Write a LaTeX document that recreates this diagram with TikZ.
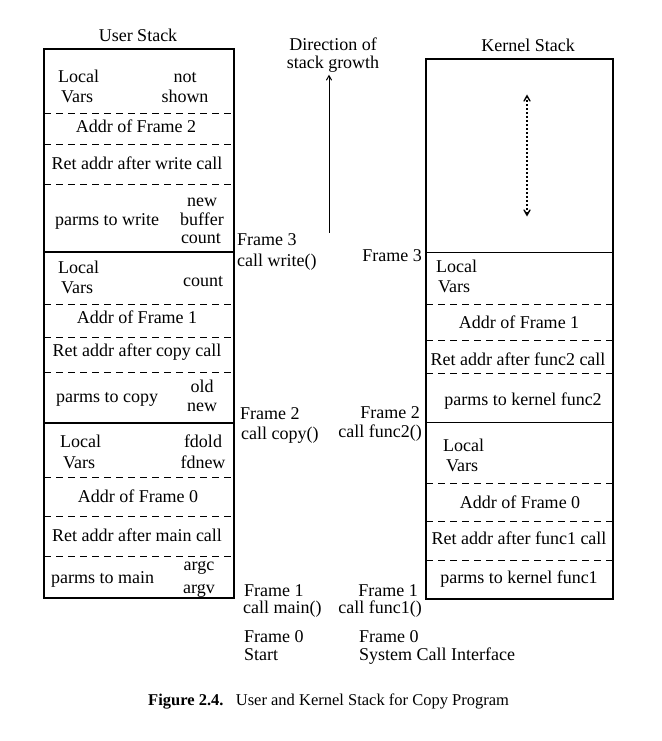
\documentclass[tikz,border=0pt]{standalone}
\usepackage{fontspec}
\setmainfont{Liberation Serif}
\usetikzlibrary{arrows,calc}

\begin{document}
\begin{tikzpicture}[%
  x=1pt,y=-1pt,
  every node/.style={font=\fontsize{18}{20}\selectfont,inner sep=0pt,
    text height=1.5ex,text depth=.25ex,yshift=-2.5pt},
  stack/.style={draw,line width=1.4pt},
  border/.style={line width=1.4pt},
  slot/.style={line width=1pt,dash pattern=on 7pt off 5pt},
  lft/.style={anchor=west},
  rgt/.style={anchor=east},
  caption/.style={anchor=west,font=\fontsize{16.5}{20}\selectfont},
  >=angle 60]
    \useasboundingbox (0,0) rectangle (661,741);
    % Stacks
    \node (utitle) at (138,36) {User Stack};
    \node (ktitle) at (528,46) {Kernel Stack};
    \draw[stack] (44,49) rectangle (234,598);
    \draw[stack] (426,59) rectangle (613,599);
    % Frame boundaries and slots
    \foreach \y in {252,423} \draw[border] (44,\y) -- (234,\y);
    \foreach \y in {114,144,184,304,337,372,477,516,556}
      \draw[slot] (44,\y) -- (234,\y);
    \foreach \y in {252.5,422.5} \draw[border] (426,\y) -- (613,\y);
    \foreach \y in {304,340,373,483,521,560}
      \draw[slot] (426,\y) -- (613,\y);
    % User stack, frame 3
    \node[lft] (ulocal3) at (58,77) {Local};
    \node[lft] (uvars3) at (61,97) {Vars};
    \node (unot) at (185,77) {not};
    \node (ushown) at (185,97) {shown};
    \node (uaddr2) at (136,127) {Addr of Frame 2};
    \node (uret3) at (137,164) {Ret addr after write call};
    \node[lft] (uparm3) at (55,220) {parms to write};
    \node (unew3) at (202,201) {new};
    \node (ubuf3) at (202,220) {buffer};
    \node (ucount3) at (201,238) {count};
    % User stack, frame 2
    \node[lft] (ulocal2) at (58,268) {Local};
    \node[lft] (uvars2) at (61,288) {Vars};
    \node (ucount2) at (203,281) {count};
    \node (uaddr1) at (137,318) {Addr of Frame 1};
    \node (uret2) at (137,351) {Ret addr after copy call};
    \node[lft] (uparm2) at (56,397) {parms to copy};
    \node (uold2) at (202,387) {old};
    \node (unew2) at (202,406) {new};
    % User stack, frame 1
    \node[lft] (ulocal1) at (60,442) {Local};
    \node[lft] (uvars1) at (63,463) {Vars};
    \node (ufdold) at (203,442) {fdold};
    \node (ufdnew) at (203,463) {fdnew};
    \node (uaddr0) at (138,497) {Addr of Frame 0};
    \node (uret1) at (137,536) {Ret addr after main call};
    \node[lft] (uparm1) at (51,578) {parms to main};
    \node (uargc) at (199,565) {argc};
    \node (uargv) at (199,588) {argv};
    % Kernel stack
    \coordinate (kgrowtop) at (527,92);
    \coordinate (kgrowbot) at (527,214);
    \draw[<->,line width=1.4pt,dash pattern=on 1.4pt off 2.6pt] (kgrowtop) -- (kgrowbot);
    \node[lft] (klocal2) at (436,267) {Local};
    \node[lft] (kvars2) at (438,287) {Vars};
    \node (kaddr1) at (519,323) {Addr of Frame 1};
    \node (kret2) at (518,360) {Ret addr after func2 call};
    \node (kparm2) at (523,400) {parms to kernel func2};
    \node[lft] (klocal1) at (443,446) {Local};
    \node[lft] (kvars1) at (446,466) {Vars};
    \node (kaddr0) at (520,503) {Addr of Frame 0};
    \node (kret1) at (519,539) {Ret addr after func1 call};
    \node (kparm1) at (519,578) {parms to kernel func1};
    % Direction of growth
    \node (dir1) at (333,45) {Direction of};
    \node (dir2) at (333,63) {stack growth};
    \coordinate (growtail) at (329,230);
    \draw[->,line width=1pt,shorten >=5pt] (growtail) -- (growtail |- dir2.south);
    % Frame labels
    \node[lft] (uf3) at (237,240) {Frame 3};
    \node[lft] (uc3) at (237,261) {call write()};
    \node[rgt] (kf3) at (422,256) {Frame 3};
    \node[lft] (uf2) at (240,414) {Frame 2};
    \node[lft] (uc2) at (241,434) {call copy()};
    \node[rgt] (kf2) at (420,413) {Frame 2};
    \node[rgt] (kc2) at (422,432) {call func2()};
    \node[lft] (uf1) at (244,591) {Frame 1};
    \node[lft] (uc1) at (243,608) {call main()};
    \node[rgt] (kf1) at (418,591) {Frame 1};
    \node[rgt] (kc1) at (422,608) {call func1()};
    \node[lft] (uf0) at (244,637) {Frame 0};
    \node[lft] (ustart) at (244,655) {Start};
    \node[lft] (kf0) at (359,637) {Frame 0};
    \node[lft] (ksci) at (359,655) {System Call Interface};
    % Caption
    \node[caption] (cap) at (148,700)
      {\textbf{Figure 2.4.}\hspace{.75em}User and Kernel Stack for Copy Program};
\end{tikzpicture}
\end{document}
